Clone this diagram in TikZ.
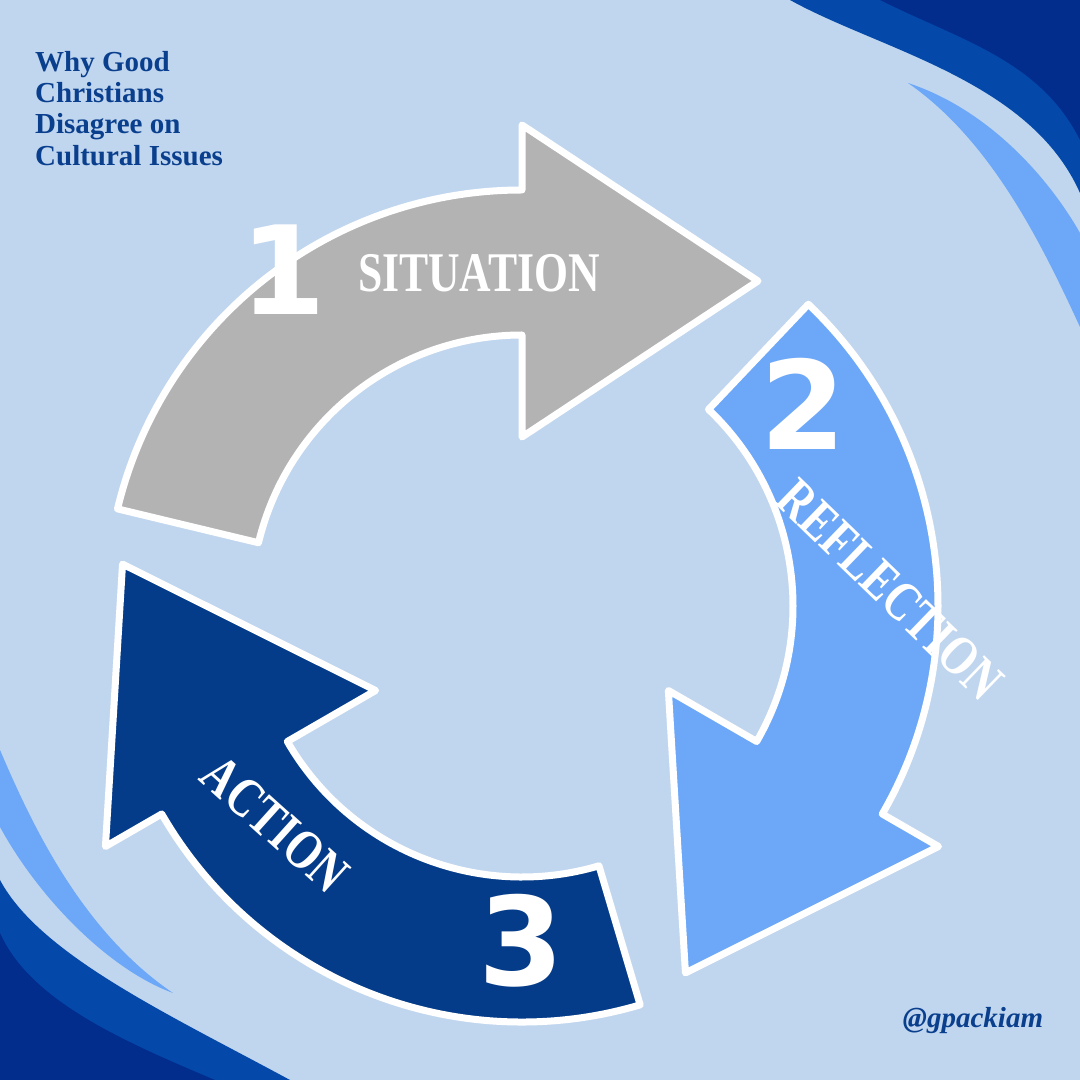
\documentclass[tikz,border=0pt]{standalone}
\usepackage{fontspec}
\setmainfont{Liberation Serif}
\newfontfamily\numfont{DejaVu Sans}
\newfontfamily\labelfont[FakeStretch=0.78]{Liberation Serif}

\begin{document}
\begin{tikzpicture}[x=1pt,y=1pt,>=latex]
    \definecolor{bgblue}{HTML}{C0D6EF}
    \definecolor{navy}{HTML}{022D8C}
    \definecolor{midblue}{HTML}{0449AA}
    \definecolor{skyblue}{HTML}{6CA7F8}
    \definecolor{stepgray}{HTML}{B3B3B3}
    \definecolor{stepnavy}{HTML}{053C89}
    \definecolor{titleblue}{HTML}{0A3F8E}
    \tikzset{
      cycarrow/.style={draw=white,line width=7pt,line join=round},
      bignum/.style={text=white,inner sep=0pt,font=\numfont\bfseries\fontsize{123}{123}\selectfont},
      steplabel/.style={text=white,inner sep=0pt,font=\labelfont\bfseries\fontsize{56}{56}\selectfont}
    }
    % Background
    \useasboundingbox (0,0) rectangle (1080,1080);
    \fill[bgblue] (0,0) rectangle (1080,1080);
    % Waves, top right corner
    \fill[midblue] (790,1080) .. controls (880,1030) and (1030,1000) .. (1080,887)
      -- (1080,1080) -- cycle;
    \fill[navy] (880,1080) .. controls (960,1040) and (1040,1020) .. (1080,940)
      -- (1080,1080) -- cycle;
    \fill[skyblue] (908,997) .. controls (990,970) and (1050,900) .. (1080,847)
      -- (1080,753) .. controls (1040,840) and (990,940) .. (908,997) -- cycle;
    % Waves, bottom left corner
    \fill[skyblue] (0,330) .. controls (30,260) and (80,150) .. (173,87)
      .. controls (110,110) and (40,180) .. (0,253) -- cycle;
    \fill[midblue] (0,200) .. controls (40,125) and (170,65) .. (290,0)
      -- (0,0) -- cycle;
    \fill[navy] (0,147) .. controls (30,80) and (120,40) .. (215,0)
      -- (0,0) -- cycle;
    % Cycle arrows
    \foreach \rot/\col in {0/stepgray,-120/skyblue,120/stepnavy}{
      \begin{scope}[shift={(522,474)},rotate=\rot]
        \filldraw[cycarrow,fill=\col]
          (166.5:416) arc[start angle=166.5,end angle=90,radius=416]
          -- (90:481) -- (236,325) -- (90:169) -- (90:271)
          arc[start angle=90,end angle=166.5,radius=271] -- cycle;
      \end{scope}
    }
    % Numbers and step names
    \node[bignum] (one) at (283,810) {1};
    \node[bignum] (two) at (803,676) {2};
    \node[bignum] (three) at (521,139) {3};
    \node[steplabel] (situation) at (479,807) {SITUATION};
    \node[steplabel,rotate=-44] (reflection) at (890,490) {REFLECTION};
    \node[steplabel,rotate=-42] (action) at (275,256) {ACTION};
    % Title and handle
    \node[anchor=north west,inner sep=0pt,align=left,text=titleblue,
      font=\bfseries\fontsize{29}{31.3}\selectfont] (title) at (35,1029)
      {Why Good\\Christians\\Disagree on\\Cultural Issues};
    \node[anchor=base,inner sep=0pt,text=titleblue,
      font=\bfseries\itshape\fontsize{29}{29}\selectfont] (handle) at (973,52) {@gpackiam};
\end{tikzpicture}
\end{document}
